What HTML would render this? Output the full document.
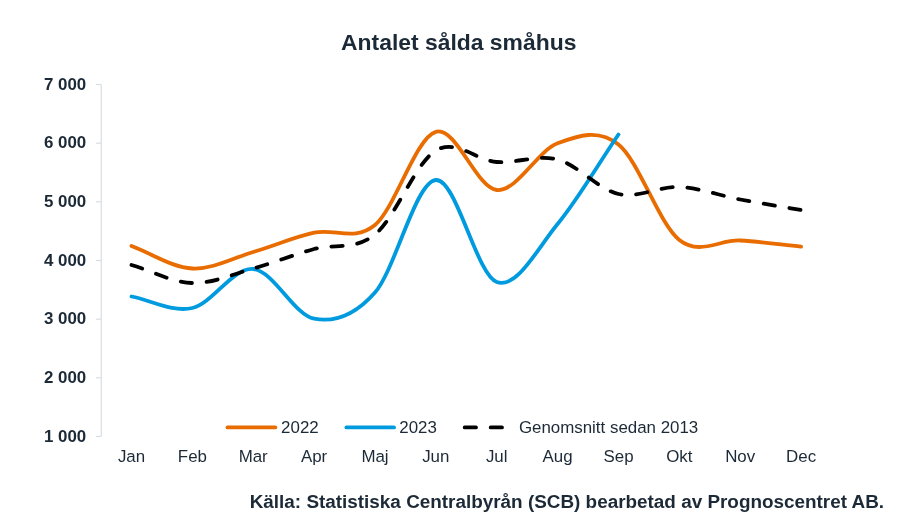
<!DOCTYPE html>
<html><head><meta charset="utf-8"><title>Antalet sålda småhus</title>
<style>html,body{margin:0;padding:0;background:#fff}body{width:899px;height:522px;position:relative;overflow:hidden}</style>
</head><body>
<svg width="899" height="522" viewBox="0 0 899 522" style="position:absolute;left:0;top:0">
<path d="M101.25 84.5 V436.5" stroke="#d6dce3" stroke-width="1.15" fill="none"/>
<path d="M96 84.5 H101.25" stroke="#d6dce3" stroke-width="1.15" fill="none"/>
<path d="M96 143.2 H101.25" stroke="#d6dce3" stroke-width="1.15" fill="none"/>
<path d="M96 201.8 H101.25" stroke="#d6dce3" stroke-width="1.15" fill="none"/>
<path d="M96 260.5 H101.25" stroke="#d6dce3" stroke-width="1.15" fill="none"/>
<path d="M96 319.2 H101.25" stroke="#d6dce3" stroke-width="1.15" fill="none"/>
<path d="M96 377.8 H101.25" stroke="#d6dce3" stroke-width="1.15" fill="none"/>
<path d="M96 436.5 H101.25" stroke="#d6dce3" stroke-width="1.15" fill="none"/>
<g font-family="Liberation Sans, Arial, sans-serif" font-weight="bold" font-size="16.9" fill="#1c2936" text-anchor="end">
<text x="86.2" y="89.6" xml:space="preserve">7 000</text>
<text x="86.2" y="148.3" xml:space="preserve">6 000</text>
<text x="86.2" y="206.9" xml:space="preserve">5 000</text>
<text x="86.2" y="265.6" xml:space="preserve">4 000</text>
<text x="86.2" y="324.3" xml:space="preserve">3 000</text>
<text x="86.2" y="382.9" xml:space="preserve">2 000</text>
<text x="86.2" y="441.6" xml:space="preserve">1 000</text>
</g>
<g font-family="Liberation Sans, Arial, sans-serif" font-size="16.9" fill="#1c2936" text-anchor="middle">
<text x="131.5" y="462">Jan</text>
<text x="192.4" y="462">Feb</text>
<text x="253.2" y="462">Mar</text>
<text x="314.1" y="462">Apr</text>
<text x="375.0" y="462">Maj</text>
<text x="435.8" y="462">Jun</text>
<text x="496.7" y="462">Jul</text>
<text x="557.6" y="462">Aug</text>
<text x="618.5" y="462">Sep</text>
<text x="679.3" y="462">Okt</text>
<text x="740.2" y="462">Nov</text>
<text x="801.1" y="462">Dec</text>
</g>
<path d="M131.50 246.00 C151.79 253.50 172.08 267.50 192.37 268.50 C212.66 269.50 232.95 257.97 253.24 252.00 C273.53 246.03 293.82 237.20 314.11 232.70 C334.40 228.20 354.69 241.82 374.98 225.00 C395.27 208.18 415.56 137.63 435.85 131.80 C456.14 125.97 476.43 188.08 496.72 190.00 C517.01 191.92 537.30 150.88 557.59 143.30 C577.88 135.72 598.17 128.38 618.46 144.50 C638.75 160.62 659.04 224.00 679.33 240.00 C699.62 256.00 719.91 239.38 740.20 240.50 C760.49 241.62 780.78 244.63 801.07 246.70" stroke="#e86c00" stroke-width="3.8" fill="none" stroke-linecap="round" stroke-linejoin="round"/>
<path d="M131.50 296.50 C151.79 300.33 172.08 312.58 192.37 308.00 C212.66 303.42 232.95 267.22 253.24 269.00 C273.53 270.78 293.82 314.78 314.11 318.70 C334.40 322.62 354.69 315.62 374.98 292.50 C395.27 269.38 415.56 181.75 435.85 180.00 C456.14 178.25 476.43 274.67 496.72 282.00 C517.01 289.33 537.30 248.58 557.59 224.00 C577.88 199.42 598.17 164.33 618.46 134.50" stroke="#009bdf" stroke-width="3.8" fill="none" stroke-linecap="round" stroke-linejoin="round"/>
<path d="M131.50 265.00 C151.79 271.00 172.08 282.42 192.37 283.00 C212.66 283.58 232.95 274.17 253.24 268.50 C273.53 262.83 293.82 254.67 314.11 249.00 C334.40 243.33 354.69 250.92 374.98 234.50 C395.27 218.08 415.56 162.58 435.85 150.50 C456.14 138.42 476.43 160.50 496.72 162.00 C517.01 163.50 537.30 154.17 557.59 159.50 C577.88 164.83 598.17 189.42 618.46 194.00 C638.75 198.58 659.04 186.08 679.33 187.00 C699.62 187.92 719.91 195.67 740.20 199.50 C760.49 203.33 780.78 206.50 801.07 210.00" stroke="#000" stroke-width="3.8" fill="none" stroke-linecap="round" stroke-linejoin="round" stroke-dasharray="11.3 14.7"/>
<path d="M227.5 427.4 H275.3" stroke="#e86c00" stroke-width="3.8" stroke-linecap="round"/>
<path d="M346.4 427.4 H394.0" stroke="#009bdf" stroke-width="3.8" stroke-linecap="round"/>
<path d="M464.7 427.4 H503" stroke="#000" stroke-width="3.8" stroke-linecap="round" stroke-dasharray="11.3 14.7"/>
<g font-family="Liberation Sans, Arial, sans-serif" font-size="16.9" fill="#1c2936">
<text x="281.1" y="432.7">2022</text>
<text x="399.3" y="432.7">2023</text>
<text x="518.9" y="432.7">Genomsnitt sedan 2013</text>
</g>
<text x="458.7" y="49.7" text-anchor="middle" font-family="Liberation Sans, Arial, sans-serif" font-weight="bold" font-size="22.9" fill="#1c2936">Antalet sålda småhus</text>
<text x="884.1" y="507.9" text-anchor="end" font-family="Liberation Sans, Arial, sans-serif" font-weight="bold" font-size="18.9" fill="#1c2936">Källa: Statistiska Centralbyrån (SCB) bearbetad av Prognoscentret AB.</text>
</svg>
</body></html>
